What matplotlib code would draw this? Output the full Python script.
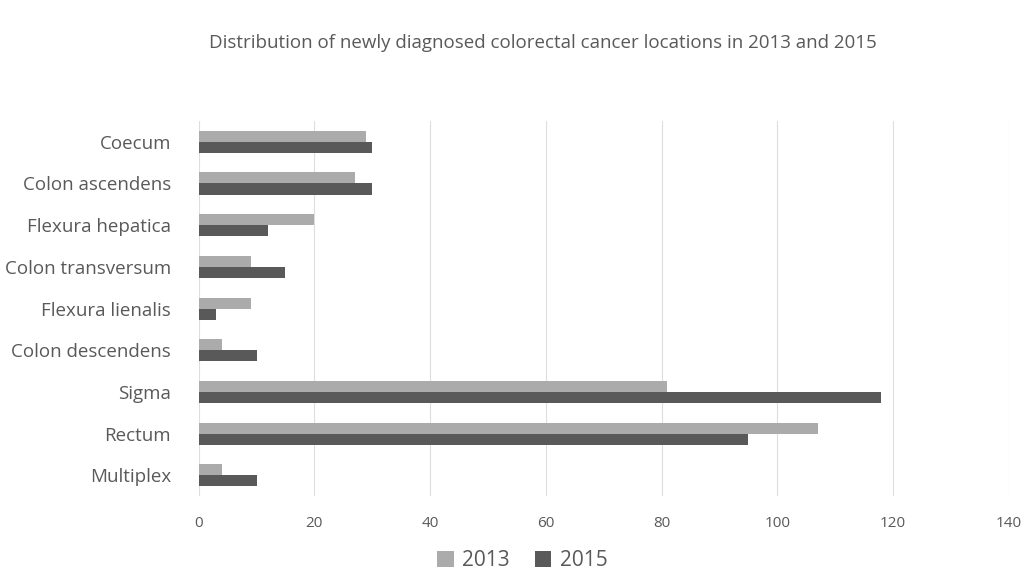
import numpy as np
import matplotlib.pyplot as plt

plt.rcParams['font.family'] = ['Open Sans', 'DejaVu Sans']

locations = ['Coecum', 'Colon ascendens', 'Flexura hepatica', 'Colon transversum',
             'Flexura lienalis', 'Colon descendens', 'Sigma', 'Rectum', 'Multiplex']
y2013 = [29, 27, 20, 9, 9, 4, 81, 107, 4]
y2015 = [30, 30, 12, 15, 3, 10, 118, 95, 10]

txt = '#595959'
fig = plt.figure(figsize=(10.24, 5.73), dpi=100)
ax = fig.add_axes([0.194, 0.134, 0.791, 0.655])

y = np.arange(len(locations))
h = 0.265
ax.barh(y - h / 2, y2013, height=h, color='#ABABAB', label='2013', zorder=3)
ax.barh(y + h / 2, y2015, height=h, color='#595959', label='2015', zorder=3)

ax.set_xlim(0, 140)
ax.set_ylim(len(locations) - 0.5, -0.5)
ax.set_xticks(np.arange(0, 141, 20))
ax.set_yticks(y)
ax.set_yticklabels(locations)
ax.tick_params(axis='y', length=0, labelsize=13.5, labelcolor=txt, pad=20)
ax.tick_params(axis='x', length=0, labelsize=11, labelcolor=txt, pad=14)
ax.grid(axis='x', color='#DDDDDD', linewidth=0.8, zorder=0)
for s in ax.spines.values():
    s.set_visible(False)

fig.suptitle('Distribution of newly diagnosed colorectal cancer locations in 2013 and 2015',
             x=0.53, y=0.94, fontsize=13.5, color=txt)
fig.legend(loc='center', bbox_to_anchor=(0.51, 0.022), ncol=2, frameon=False,
           fontsize=15, labelcolor=txt, handlelength=0.8, handleheight=0.8,
           handletextpad=0.4, columnspacing=1.2)

fig.savefig('out.png', dpi=100)
